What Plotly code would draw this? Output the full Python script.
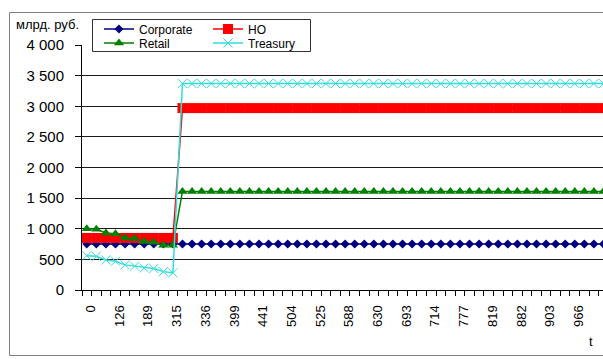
import plotly.graph_objects as go

# time points (category axis) and the four business lines, bn RUB
t_values = [0, 42, 84, 126, 147, 168, 189, 231, 273, 315,
            322, 329, 336, 357, 378, 399, 413, 427, 441, 462,
            483, 504, 511, 518, 525, 546, 567, 588, 602, 616,
            630, 651, 672, 693, 700, 707, 714, 735, 756, 777,
            791, 805, 819, 840, 861, 882, 889, 896, 903, 924,
            945, 966, 980, 994, 1008, 1029]

corporate = [750, 750, 750, 750, 750, 750, 750, 750, 750, 750,
             750, 750, 750, 750, 750, 750, 750, 750, 750, 750,
             750, 750, 750, 750, 750, 750, 750, 750, 750, 750,
             750, 750, 750, 750, 750, 750, 750, 750, 750, 750,
             750, 750, 750, 750, 750, 750, 750, 750, 750, 750,
             750, 750, 750, 750, 750, 750]

ho = [850, 850, 850, 850, 850, 850, 850, 850, 850, 850,
      2970, 2970, 2970, 2970, 2970, 2970, 2970, 2970, 2970, 2970,
      2970, 2970, 2970, 2970, 2970, 2970, 2970, 2970, 2970, 2970,
      2970, 2970, 2970, 2970, 2970, 2970, 2970, 2970, 2970, 2970,
      2970, 2970, 2970, 2970, 2970, 2970, 2970, 2970, 2970, 2970,
      2970, 2970, 2970, 2970, 2970, 2970]

retail = [1000, 990, 930, 920, 850, 840, 790, 780, 730, 730,
          1610, 1610, 1610, 1610, 1610, 1610, 1610, 1610, 1610, 1610,
          1610, 1610, 1610, 1610, 1610, 1610, 1610, 1610, 1610, 1610,
          1610, 1610, 1610, 1610, 1610, 1610, 1610, 1610, 1610, 1610,
          1610, 1610, 1610, 1610, 1610, 1610, 1610, 1610, 1610, 1610,
          1610, 1610, 1610, 1610, 1610, 1610]

treasury = [560, 550, 490, 470, 410, 390, 360, 350, 300, 280,
            3370, 3370, 3370, 3370, 3370, 3370, 3370, 3370, 3370, 3370,
            3370, 3370, 3370, 3370, 3370, 3370, 3370, 3370, 3370, 3370,
            3370, 3370, 3370, 3370, 3370, 3370, 3370, 3370, 3370, 3370,
            3370, 3370, 3370, 3370, 3370, 3370, 3370, 3370, 3370, 3370,
            3370, 3370, 3370, 3370, 3370, 3370]

y_tick_values = [0, 500, 1000, 1500, 2000, 2500, 3000, 3500, 4000]
y_tick_labels = ["0", "500", "1 000", "1 500", "2 000", "2 500", "3 000", "3 500", "4 000"]

FONT = "Liberation Sans, Arial, sans-serif"
W, H = 603, 359
ML, MR, MT, MB = 82, 0, 45, 69
PW, PH = W - ML - MR, H - MT - MB


def px_x(x):
    return (x - ML) / PW


def px_y(y):
    return (H - MB - y) / PH


cats = [str(t) for t in t_values]

series = [
    ("Corporate", corporate, "#000080", dict(symbol="diamond", size=7), "legend"),
    ("HO", ho, "#ff0000", dict(symbol="square", size=10), "legend"),
    ("Retail", retail, "#008000", dict(symbol="triangle-up", size=9), "legend2"),
    ("Treasury", treasury, "#33dddd", dict(symbol="x-thin", size=9,
                                          line=dict(width=1, color="#33dddd")), "legend2"),
]

fig = go.Figure()
for name, vals, color, marker, leg in series:
    fig.add_trace(go.Scatter(
        x=cats, y=vals, name=name, mode="lines+markers",
        line=dict(color=color, width=1.5),
        marker=dict(color=color, **marker),
        legend=leg,
    ))

legend_common = dict(
    orientation="h", bgcolor="rgba(0,0,0,0)", borderwidth=0,
    font=dict(family=FONT, size=12, color="black"),
    entrywidth=64, entrywidthmode="pixels",
    xanchor="left", yanchor="middle",
)

fig.update_layout(
    width=W, height=H,
    margin=dict(l=ML, r=MR, t=MT, b=MB, autoexpand=False),
    paper_bgcolor="white", plot_bgcolor="white",
    font=dict(family=FONT, size=13, color="black"),
    showlegend=True,
    legend=dict(x=px_x(99), y=px_y(29), **legend_common),
    legend2=dict(x=px_x(99), y=px_y(43), **legend_common),
    xaxis=dict(
        type="category", range=[-0.5, 53.95],
        tickmode="linear", tick0=0, dtick=1, ticklabelstep=3,
        tickson="boundaries", ticks="outside", ticklen=5, tickcolor="black",
        tickangle=-90, tickfont=dict(family=FONT, size=13, color="black"),
        ticklabelstandoff=9, ticklabelshift=4,
        showline=True, linecolor="black", linewidth=1,
        showgrid=False, zeroline=False, fixedrange=True,
    ),
    yaxis=dict(
        range=[0, 4000], tickmode="array",
        tickvals=y_tick_values, ticktext=y_tick_labels,
        ticks="outside", ticklen=6, tickcolor="black",
        tickfont=dict(family=FONT, size=15, color="black"),
        ticklabelstandoff=8,
        showline=True, linecolor="black", linewidth=1,
        showgrid=True, gridcolor="#1a1a1a", gridwidth=1.2,
        zeroline=False, fixedrange=True,
    ),
    shapes=[
        # outer chart frame
        dict(type="rect", xref="paper", yref="paper",
             x0=px_x(9.5), x1=px_x(620), y0=px_y(355.5), y1=px_y(12.5),
             line=dict(color="#808080", width=1), fillcolor="rgba(0,0,0,0)",
             layer="above"),
        # legend frame
        dict(type="rect", xref="paper", yref="paper",
             x0=px_x(92.5), x1=px_x(310.5), y0=px_y(51.5), y1=px_y(19.5),
             line=dict(color="#333333", width=1), fillcolor="white",
             layer="above"),
    ],
    annotations=[
        dict(text="млрд. руб.", xref="paper", yref="paper",
             x=px_x(14), y=px_y(24), xanchor="left", yanchor="middle",
             showarrow=False, font=dict(family=FONT, size=13, color="black")),
        dict(text="t", xref="paper", yref="paper",
             x=px_x(591), y=px_y(342), xanchor="center", yanchor="middle",
             showarrow=False, font=dict(family=FONT, size=13, color="black")),
    ],
)

fig.write_html("out.html")
